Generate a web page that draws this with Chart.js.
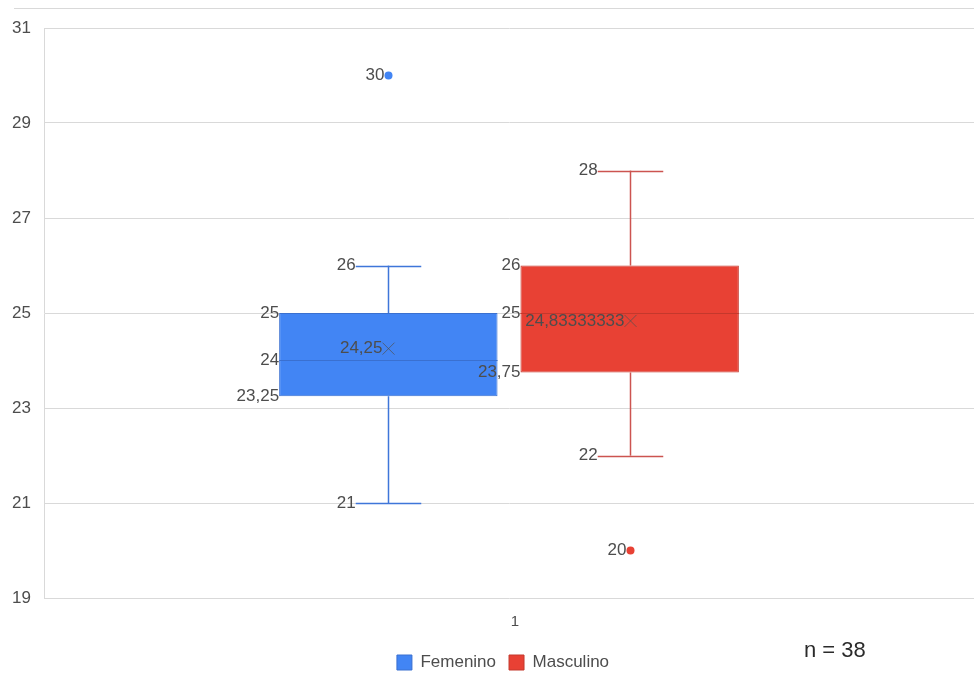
<!DOCTYPE html>
<html lang="es">
<head>
<meta charset="UTF-8">
<title>Diagrama de caja</title>
<script src="https://cdn.jsdelivr.net/npm/chart.js"></script>
<style>
  body { margin: 0; background: #fff; }
  .marco { position: relative; width: 974px; height: 686px; }
  .linea-sup { position: absolute; left: 14px; right: 0; top: 8px; border-top: 1px solid #d9d9d9; }
  .n { position: absolute; left: 804px; top: 637px; font: 22px 'Liberation Sans', Arial, sans-serif; color: #2b2b2b; }
  canvas { position: absolute; left: 0; top: 0; }
</style>
</head>
<body>
<div class="marco">
  <canvas id="grafico" width="974" height="686"></canvas>
  <div class="linea-sup"></div>
  <div class="n">n = 38</div>
</div>

<script>
// datos del diagrama de caja
const categorias = ['1'];
const series = ['Femenino', 'Masculino'];
const minimo = [21, 22];
const q1 = [23.25, 23.75];
const mediana = [24, 25];
const q3 = [25, 26];
const maximo = [26, 28];
const media = [24.25, 24.83333333];
const atipicos = [[30], [20]];
const ticksY = [19, 21, 23, 25, 27, 29, 31];

const relleno = ['#4285f4', '#e84134'];
const borde = ['#3a70d0', '#c4382c'];
const bigote = ['#3f76d9', '#cc5450'];
const fuente = "'Liberation Sans', Arial, sans-serif";

function fmt(v) {
  return String(v).replace('.', ',');
}

const cajaPlugin = {
  id: 'caja',
  afterLayout(chart) {
    // la leyenda va un poco a la derecha del centro
    if (chart.legend) {
      chart.legend.left += 16;
      chart.legend.right += 16;
    }
  },
  beforeDatasetsDraw(chart) {
    const ctx = chart.ctx, y = chart.scales.y;
    chart.data.datasets.forEach((ds, i) => {
      const el = chart.getDatasetMeta(i).data[0];
      const cx = Math.round(el.x) + 0.5;
      const c = el.width * 0.15;
      ctx.save();
      ctx.strokeStyle = bigote[i];
      ctx.lineWidth = 1.5;
      ctx.beginPath();
      ctx.moveTo(cx, y.getPixelForValue(maximo[i]));
      ctx.lineTo(cx, y.getPixelForValue(q3[i]));
      ctx.moveTo(cx, y.getPixelForValue(q1[i]));
      ctx.lineTo(cx, y.getPixelForValue(minimo[i]));
      [maximo[i], minimo[i]].forEach(v => {
        const py = Math.round(y.getPixelForValue(v)) + 0.5;
        ctx.moveTo(cx - c, py);
        ctx.lineTo(cx + c, py);
      });
      ctx.stroke();
      ctx.restore();
    });
  },
  afterDatasetsDraw(chart) {
    const ctx = chart.ctx, y = chart.scales.y;
    chart.data.datasets.forEach((ds, i) => {
      const el = chart.getDatasetMeta(i).data[0];
      const cx = Math.round(el.x) + 0.5;
      const izq = el.x - el.width / 2;
      const c = el.width * 0.15;
      ctx.save();

      // mediana
      const pm = Math.round(y.getPixelForValue(mediana[i])) + 0.5;
      ctx.strokeStyle = borde[i];
      ctx.lineWidth = 1;
      ctx.beginPath();
      ctx.moveTo(izq, pm);
      ctx.lineTo(izq + el.width, pm);
      ctx.stroke();

      // media (x)
      const py = y.getPixelForValue(media[i]);
      ctx.strokeStyle = 'rgba(80,80,80,0.7)';
      ctx.beginPath();
      ctx.moveTo(cx - 6, py - 6); ctx.lineTo(cx + 6, py + 6);
      ctx.moveTo(cx + 6, py - 6); ctx.lineTo(cx - 6, py + 6);
      ctx.stroke();

      // atipicos
      ctx.fillStyle = relleno[i];
      atipicos[i].forEach(v => {
        ctx.beginPath();
        ctx.arc(cx, y.getPixelForValue(v), 4, 0, Math.PI * 2);
        ctx.fill();
      });

      // etiquetas
      ctx.font = '17px ' + fuente;
      ctx.fillStyle = '#4d4d4d';
      ctx.textAlign = 'right';
      ctx.textBaseline = 'middle';
      ctx.fillText(fmt(maximo[i]), cx - c, y.getPixelForValue(maximo[i]));
      ctx.fillText(fmt(minimo[i]), cx - c, y.getPixelForValue(minimo[i]));
      ctx.fillText(fmt(q3[i]), izq, y.getPixelForValue(q3[i]));
      ctx.fillText(fmt(q1[i]), izq, y.getPixelForValue(q1[i]));
      ctx.fillText(fmt(mediana[i]), izq, y.getPixelForValue(mediana[i]));
      ctx.fillText(fmt(media[i]), cx - 6, py);
      atipicos[i].forEach(v => ctx.fillText(fmt(v), cx - 4, y.getPixelForValue(v)));
      ctx.restore();
    });
  }
};

new Chart(document.getElementById('grafico'), {
  type: 'bar',
  data: {
    labels: categorias,
    datasets: series.map((nombre, i) => ({
      label: nombre,
      data: [[q1[i], q3[i]]],
      backgroundColor: relleno[i],
      borderColor: borde[i],
      borderWidth: 1,
      borderSkipped: false,
      categoryPercentage: 0.519,
      barPercentage: 0.905
    }))
  },
  options: {
    responsive: false,
    animation: false,
    layout: { padding: { top: 28, right: 0, bottom: 5, left: 0 } },
    plugins: {
      tooltip: { enabled: false },
      legend: {
        position: 'bottom',
        labels: {
          font: { family: fuente, size: 17 },
          color: '#4d4d4d',
          boxWidth: 15,
          boxHeight: 15,
          padding: 13
        }
      }
    },
    scales: {
      x: {
        grid: { display: false },
        border: { display: false },
        ticks: { font: { family: fuente, size: 15 }, color: '#4d4d4d', padding: 7, labelOffset: 6 },
        afterFit: s => { s.height = 43; }
      },
      y: {
        min: 19,
        max: 31,
        grid: { color: '#d9d9d9', drawTicks: false },
        border: { display: true, color: '#d9d9d9' },
        ticks: { font: { family: fuente, size: 17 }, color: '#4d4d4d', padding: 13 },
        afterBuildTicks: s => { s.ticks = ticksY.map(v => ({ value: v })); },
        afterFit: s => { s.width = 44; }
      }
    }
  },
  plugins: [cajaPlugin]
});
</script>
</body>
</html>
